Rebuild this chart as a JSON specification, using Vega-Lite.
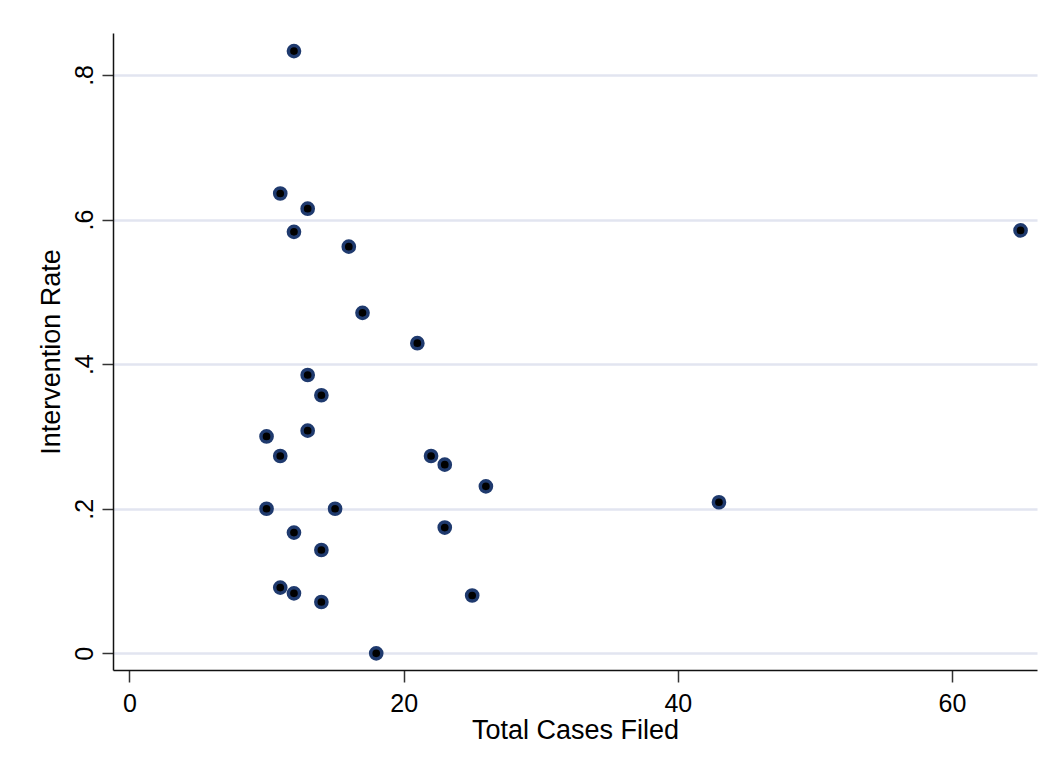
{
  "$schema": "https://vega.github.io/schema/vega-lite/v6.json",
  "width": 924,
  "height": 637,
  "autosize": {"type": "none"},
  "padding": {"left": 113, "top": 33, "right": 16, "bottom": 99},
  "background": "white",
  "config": {
    "view": {"stroke": null},
    "font": "Liberation Sans"
  },
  "data": {
    "values": [
      {"cases": 12, "rate": 0.833},
      {"cases": 11, "rate": 0.636},
      {"cases": 13, "rate": 0.615},
      {"cases": 12, "rate": 0.583},
      {"cases": 16, "rate": 0.5625},
      {"cases": 65, "rate": 0.585},
      {"cases": 17, "rate": 0.471},
      {"cases": 21, "rate": 0.429},
      {"cases": 13, "rate": 0.385},
      {"cases": 14, "rate": 0.357},
      {"cases": 10, "rate": 0.3},
      {"cases": 13, "rate": 0.308},
      {"cases": 11, "rate": 0.273},
      {"cases": 22, "rate": 0.273},
      {"cases": 23, "rate": 0.261},
      {"cases": 26, "rate": 0.231},
      {"cases": 43, "rate": 0.209},
      {"cases": 10, "rate": 0.2},
      {"cases": 15, "rate": 0.2},
      {"cases": 12, "rate": 0.167},
      {"cases": 23, "rate": 0.174},
      {"cases": 14, "rate": 0.143},
      {"cases": 11, "rate": 0.091},
      {"cases": 12, "rate": 0.083},
      {"cases": 14, "rate": 0.071},
      {"cases": 25, "rate": 0.08},
      {"cases": 18, "rate": 0.0}
    ]
  },
  "mark": {
    "type": "point",
    "shape": "circle",
    "filled": false,
    "fill": "black",
    "stroke": "#1f3a6e",
    "strokeWidth": 3.5,
    "size": 125,
    "opacity": 1
  },
  "encoding": {
    "x": {
      "field": "cases",
      "type": "quantitative",
      "scale": {"domain": [-1.2, 66.2], "nice": false, "zero": false},
      "axis": {
        "title": "Total Cases Filed",
        "values": [0, 20, 40, 60],
        "grid": false,
        "domainColor": "#111111",
        "domainWidth": 1.5,
        "tickColor": "#333333",
        "tickWidth": 1.5,
        "tickSize": 12,
        "labelFontSize": 25,
        "labelColor": "black",
        "labelPadding": 9,
        "labelFont": "Liberation Sans",
        "titleFont": "Liberation Sans",
        "titleFontSize": 27,
        "titleFontWeight": "normal",
        "titleColor": "black",
        "titlePadding": 1
      }
    },
    "y": {
      "field": "rate",
      "type": "quantitative",
      "scale": {"domain": [-0.023, 0.858], "nice": false, "zero": false},
      "axis": {
        "title": "Intervention Rate",
        "values": [0, 0.2, 0.4, 0.6, 0.8],
        "labelExpr": "datum.value == 0 ? '0' : replace(format(datum.value, '.1f'), '0.', '.')",
        "grid": true,
        "gridColor": "#e2e5f0",
        "gridWidth": 2.5,
        "domainColor": "#111111",
        "domainWidth": 1.5,
        "tickColor": "#333333",
        "tickWidth": 1.5,
        "tickSize": 11,
        "labelAngle": -90,
        "labelAlign": "center",
        "labelBaseline": "alphabetic",
        "labelFontSize": 25,
        "labelColor": "black",
        "labelPadding": 10,
        "labelFont": "Liberation Sans",
        "titleFont": "Liberation Sans",
        "titleFontSize": 27,
        "titleFontWeight": "normal",
        "titleColor": "black",
        "titlePadding": 7
      }
    }
  }
}
